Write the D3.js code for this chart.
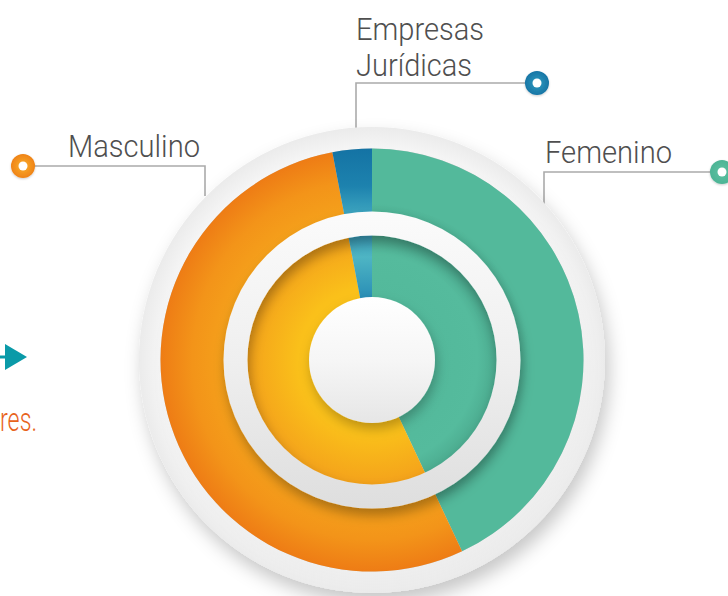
<!DOCTYPE html>
<html><head><meta charset="utf-8">
<script src="https://cdn.jsdelivr.net/npm/d3@7"></script>
<style>html,body{margin:0;padding:0;background:#fff;}svg{display:block;}</style>
</head><body>
<svg id="chart" width="728" height="596"></svg>
<script>
// ---- data ----
const categories = ["Femenino", "Masculino", "Empresas Jurídicas"];
const values = [43, 54, 3];
const colors = ["#53b99b", "#f0871a", "#1878a8"];
const labelLines = [["Femenino"], ["Masculino"], ["Empresas", "Jurídicas"]];

const W = 728, H = 596;
const cx = 372, cy = 360;
const R = { backdrop: 233, outer: 211.5, donutIn: 148.5, ringIn: 124.5, center: 63 };

// label layout (text position, elbow x, leader y, dot x)
const labelLayout = [
  { tx: 545, ty: 163, w: 127, lineY: 172, elbowX: 544, dropY: 205, dotX: 722 },
  { tx: 68, ty: 157, w: 132, lineY: 166, elbowX: 205, dropY: 196, dotX: 23 },
  { tx: 356, ty: 40, w: 128, lineY: 83, elbowX: 356, dropY: 129, dotX: 537 }
];

const svg = d3.select("#chart");
const defs = svg.append("defs");

function radial(id, stops, r) {
  const g = defs.append("radialGradient").attr("id", id)
    .attr("gradientUnits", "userSpaceOnUse").attr("cx", 0).attr("cy", 0).attr("r", r);
  stops.forEach(s => g.append("stop").attr("offset", s[0]).attr("stop-color", s[1]));
}
function linear(id, stops, x1, y1, x2, y2) {
  const g = defs.append("linearGradient").attr("id", id)
    .attr("gradientUnits", "userSpaceOnUse").attr("x1", x1).attr("y1", y1).attr("x2", x2).attr("y2", y2);
  stops.forEach(s => g.append("stop").attr("offset", s[0]).attr("stop-color", s[1]));
}
function shadow(id, dx, dy, sd, op) {
  const f = defs.append("filter").attr("id", id).attr("x", "-30%").attr("y", "-30%").attr("width", "160%").attr("height", "160%");
  f.append("feDropShadow").attr("dx", dx).attr("dy", dy).attr("stdDeviation", sd)
    .attr("flood-color", "#000").attr("flood-opacity", op);
}
shadow("shBig", 4, 10, 9, 0.22);
shadow("shRing", 2, 7, 6, 0.3);
shadow("shCenter", 2, 6, 6, 0.25);
shadow("shDot", 0, 1, 1, 0.2);

radial("gBackdrop", [[0, "#ffffff"], [0.86, "#fbfbfb"], [1, "#ebebeb"]], R.backdrop);
radial("gOrangeOut", [[0.68, "#f5a21b"], [0.85, "#f39419"], [1, "#ee7c15"]], R.outer);
radial("gOrangeIn", [[0, "#fcc81a"], [0.35, "#fac01a"], [0.6, "#f4a11b"]], R.outer);
radial("gGreenOut", [[0.69, "#4db093"], [0.74, "#53b99b"], [1, "#53b99b"]], R.outer);
radial("gGreenIn", [[0.3, "#53b99b"], [0.5, "#55bb9d"], [0.59, "#4cac90"]], R.outer);
linear("gBlueOut", [[0, "#1473a4"], [0.6, "#1d82ae"], [1, "#3aa2be"]], 0, -R.outer, 0, -R.donutIn);
linear("gBlueIn", [[0, "#3a9fbc"], [0.35, "#4eb5c4"], [1, "#2a8fb6"]], 0, -R.ringIn, 0, -R.center);
linear("gRing", [[0, "#fbfbfb"], [0.5, "#efefef"], [1, "#dedede"]], 0, -R.donutIn, 0, R.donutIn);
linear("gCenter", [[0, "#ffffff"], [0.5, "#f6f6f6"], [1, "#e6e6e6"]], 0, -R.center, 0, R.center);
radial("gDotO", [[0, "#fbb02a"], [1, "#ef8317"]], 12);
radial("gDotB", [[0, "#2f9cc0"], [1, "#1775a5"]], 12);
radial("gDotG", [[0, "#5cc2a2"], [1, "#4db495"]], 12);

const outFill = ["url(#gGreenOut)", "url(#gOrangeOut)", "url(#gBlueOut)"];
const inFill = ["url(#gGreenIn)", "url(#gOrangeIn)", "url(#gBlueIn)"];
const dotFill = ["url(#gDotG)", "url(#gDotO)", "url(#gDotB)"];

const FONT = "Roboto, 'Liberation Sans Narrow', sans-serif";

// ---- left decorations (partially visible neighbouring content) ----
svg.append("line").attr("x1", 0).attr("x2", 8).attr("y1", 357).attr("y2", 357)
  .attr("stroke", "#0a9aa8").attr("stroke-width", 3);
svg.append("path").attr("d", "M5,344 L27,357 L5,370 Z").attr("fill", "#0a9aa8");
svg.append("text").attr("x", 0).attr("y", 431).text("res.")
  .attr("font-family", FONT).attr("font-weight", 300)
  .attr("font-size", 34).attr("fill", "#e8631c")
  .attr("textLength", 37).attr("lengthAdjust", "spacingAndGlyphs");

// ---- labels & leaders ----
const lab = svg.append("g");
labelLayout.forEach((L, i) => {
  lab.append("path")
    .attr("d", `M${L.dotX},${L.lineY} H${L.elbowX} V${L.dropY}`)
    .attr("fill", "none").attr("stroke", "#ababab").attr("stroke-width", 1.6);
  labelLines[i].forEach((t, k) => {
    lab.append("text").attr("x", L.tx).attr("y", L.ty + k * 36).text(t)
      .attr("font-family", FONT).attr("font-weight", 300)
      .attr("font-size", 32).attr("fill", "#4f4f4f")
      .attr("textLength", k === 0 ? L.w : 116).attr("lengthAdjust", "spacingAndGlyphs");
  });
  const dg = lab.append("g").attr("transform", `translate(${L.dotX},${L.lineY})`);
  dg.append("circle").attr("r", 12).attr("fill", dotFill[i]).attr("filter", "url(#shDot)");
  dg.append("circle").attr("r", 4.5).attr("fill", "#fff");
});

// ---- chart ----
const g = svg.append("g").attr("transform", `translate(${cx},${cy})`);

g.append("circle").attr("r", R.backdrop).attr("fill", "url(#gBackdrop)").attr("filter", "url(#shBig)");

const pie = d3.pie().sort(null).value(d => d)(values);
const arcOut = d3.arc().innerRadius(R.donutIn - 2).outerRadius(R.outer);
const arcIn = d3.arc().innerRadius(R.center - 2).outerRadius(R.ringIn + 2);

g.append("circle").attr("r", R.outer).attr("fill", "#000").attr("opacity", 0.15).attr("filter", "url(#shBig)");
g.selectAll("path.out").data(pie).join("path").attr("class", "out")
  .attr("d", arcOut).attr("fill", (d, i) => outFill[i]);
g.selectAll("path.in").data(pie).join("path").attr("class", "in")
  .attr("d", arcIn).attr("fill", (d, i) => inFill[i]);

const ringArc = d3.arc().innerRadius(R.ringIn).outerRadius(R.donutIn).startAngle(0).endAngle(2 * Math.PI);
g.append("path").attr("d", ringArc()).attr("fill", "url(#gRing)").attr("filter", "url(#shRing)");
g.append("circle").attr("r", R.center).attr("fill", "url(#gCenter)").attr("filter", "url(#shCenter)");
</script>
</body></html>
